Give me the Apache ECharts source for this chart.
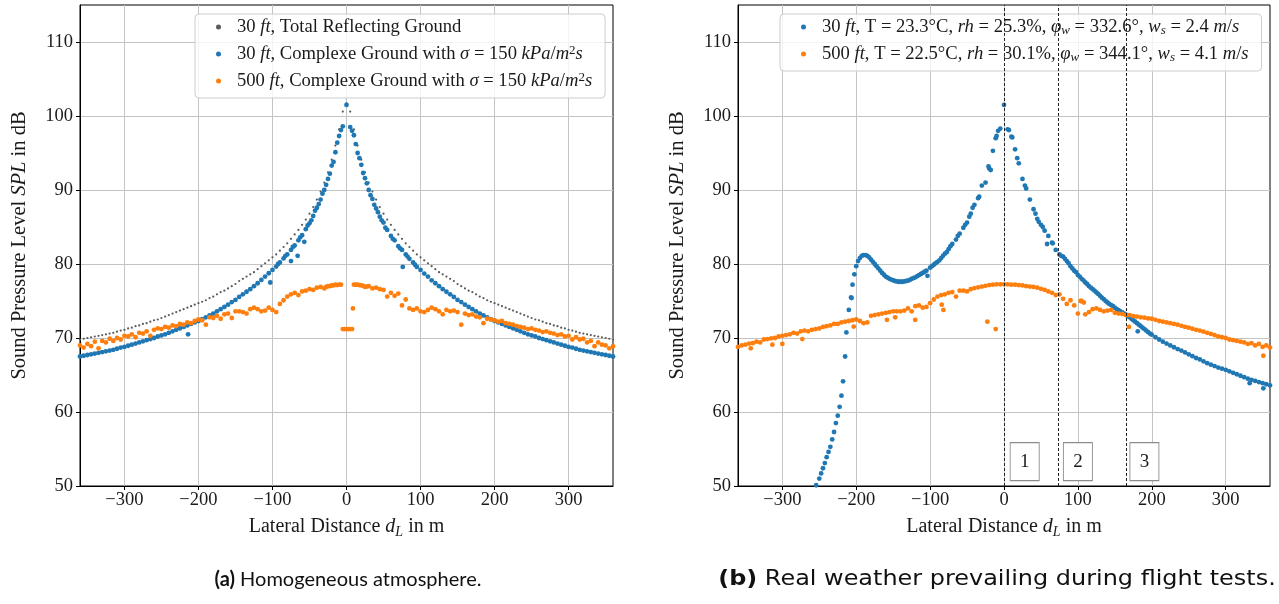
<!DOCTYPE html>
<html>
<head>
<meta charset="utf-8">
<script src="https://cdn.jsdelivr.net/npm/echarts@6/dist/echarts.min.js"></script>
<style>
html, body { margin: 0; padding: 0; background: #fff; }
#chart { width: 1279px; height: 604px; }
</style>
</head>
<body>
<div id="chart"></div>
<script>
// Lateral distance of each sample point (m)
const dist = [
  -360,-355,-350,-345,-340,-335,-330,-325,-320,-315,-310,-305,
  -300,-295,-290,-285,-280,-275,-270,-265,-260,-255,-250,-245,
  -240,-235,-230,-225,-220,-215,-210,-205,-200,-195,-190,-185,
  -180,-175,-170,-165,-160,-155,-150,-145,-140,-135,-130,-125,
  -120,-115,-110,-105,-100,-95,-90,-85,-80,-75,-70,-65,
  -60,-55,-50,-45,-40,-35,-30,-25,-20,-15,-10,-5,
  0,5,10,15,20,25,30,35,40,45,50,55,
  60,65,70,75,80,85,90,95,100,105,110,115,
  120,125,130,135,140,145,150,155,160,165,170,175,
  180,185,190,195,200,205,210,215,220,225,230,235,
  240,245,250,255,260,265,270,275,280,285,290,295,
  300,305,310,315,320,325,330,335,340,345,350,355,
  360
];

// (a) 30 ft, total reflecting ground (dB)
const reflectA = [
  69.8,69.9,70.0,70.1,70.2,70.3,70.4,70.5,70.6,70.7,70.85,71.0,
  71.1,71.3,71.4,71.6,71.7,71.9,72.0,72.2,72.4,72.5,72.7,72.9,
  73.1,73.3,73.5,73.7,73.9,74.1,74.3,74.5,74.7,74.9,75.1,75.4,
  75.6,75.9,76.2,76.4,76.7,77.0,77.3,77.7,78.0,78.3,78.6,78.9,
  79.3,79.7,80.1,80.5,80.9,81.3,81.8,82.3,82.8,83.4,84.0,84.6,
  85.3,86.0,86.8,87.7,88.7,89.8,91.0,92.4,94.1,96.0,98.2,100.6,
  101.7,100.6,98.2,96.0,94.1,92.4,91.0,89.8,88.7,87.7,86.8,86.0,
  85.3,84.6,84.0,83.4,82.8,82.3,81.8,81.3,80.9,80.5,80.1,79.7,
  79.3,78.9,78.6,78.3,78.0,77.7,77.3,77.0,76.7,76.4,76.2,75.9,
  75.6,75.4,75.1,74.9,74.7,74.5,74.3,74.1,73.9,73.7,73.5,73.3,
  73.1,72.9,72.7,72.5,72.4,72.2,72.0,71.9,71.7,71.6,71.4,71.3,
  71.1,71.0,70.85,70.7,70.6,70.5,70.4,70.3,70.2,70.1,70.0,69.9,
  69.8
];

// (a) 30 ft, complex ground (dB)
const lowA = [
  67.5,67.6,67.7,67.8,67.9,68.0,68.1,68.2,68.3,68.4,68.55,68.7,
  68.8,68.95,69.1,69.25,69.4,69.55,69.7,69.85,70.0,70.2,70.35,70.5,
  70.7,70.9,71.1,71.3,71.5,71.7,71.9,72.1,72.3,72.55,72.8,73.05,
  73.3,73.6,73.9,74.2,74.5,74.85,75.15,75.55,75.9,76.25,76.6,77.0,
  77.4,77.85,78.3,78.75,79.2,79.65,80.2,80.75,81.3,81.9,82.5,83.2,
  83.9,84.7,85.5,86.5,87.6,88.7,90.0,91.5,93.3,95.1,97.3,98.6,
  101.5,98.5,97.4,95.0,93.4,91.6,90.0,88.8,87.5,86.4,85.6,84.6,
  83.8,83.2,82.4,81.9,81.3,80.7,80.2,79.6,79.2,78.7,78.3,77.8,
  77.4,77.0,76.6,76.25,75.9,75.55,75.15,74.85,74.5,74.2,73.9,73.6,
  73.3,73.05,72.8,72.55,72.3,72.1,71.9,71.7,71.5,71.3,71.1,70.9,
  70.7,70.5,70.35,70.2,70.0,69.85,69.7,69.55,69.4,69.25,69.1,68.95,
  68.8,68.7,68.55,68.4,68.3,68.2,68.1,68.0,67.9,67.8,67.7,67.6,
  67.5
];
const lowAExtraDist = [-57,-66,-75,76,-103,-214,-7.5,7.5,-12.5,12.5,-17.5,17.5,-22.5,22.5,-27.5,27.5,
  -32.5,32.5,-37.5,37.5,-42.5,42.5,-47.5,47.5,-52.5,52.5,-62.5,62.5,-72.5,72.5,-82.5,82.5,-92.5,92.5];
const lowAExtraSpl = [83.0,81.1,80.4,79.6,77.5,70.5,98.1,98.0,96.4,96.2,93.8,94.3,92.2,92.3,90.7,90.9,
  89.5,89.3,88.1,88.0,87.2,87.0,85.9,85.9,85.2,84.9,83.6,83.4,82.3,82.1,81.1,81.0,80.0,79.9];

// (a) 500 ft, complex ground (dB)
const highA = [
  69.0,68.7,69.2,68.9,69.5,68.6,69.6,69.4,69.9,69.6,70.0,69.8,
  70.3,70.2,70.5,70.1,70.7,70.6,70.9,70.3,71.1,71.3,71.2,71.5,
  71.4,71.7,71.6,71.9,71.8,72.1,72.0,72.3,72.5,72.4,71.8,72.8,
  72.7,73.0,72.6,73.2,73.3,72.7,73.6,73.6,73.5,73.3,73.9,74.1,
  73.9,73.6,73.7,74.1,73.8,73.5,74.6,75.1,75.6,75.9,76.1,75.8,
  76.3,76.4,76.6,76.5,76.8,76.9,76.7,77.0,77.1,77.2,77.2,71.2,
  71.2,71.2,77.2,77.2,77.1,76.9,77.0,76.7,76.8,76.6,76.5,75.6,
  76.1,75.7,76.0,74.4,75.2,74.0,73.8,74.0,73.6,73.5,73.8,74.1,
  73.9,73.6,73.2,73.8,73.6,73.7,73.5,71.8,73.3,73.1,73.2,72.9,
  72.8,72.0,72.6,72.5,72.4,72.2,72.3,72.0,71.9,71.8,71.6,71.5,
  71.4,71.2,71.3,71.1,71.0,70.8,70.9,70.7,70.6,70.4,70.5,70.2,
  70.3,69.8,70.1,69.8,69.9,69.4,69.6,68.9,69.4,69.1,69.0,68.6,
  68.9
];
const highAExtraDist = [-7.5,-2.5,2.5,7.5,8.7,12.5,-12.5,-17.5,17.5,-22.5,22.5,-27.5,27.5];
const highAExtraSpl = [77.2,71.2,71.2,71.2,74.0,77.2,77.15,77.1,77.15,77.0,77.05,76.9,76.95];

// (b) 30 ft, measured weather (dB)
const lowB = [
  null,null,null,null,null,null,null,null,null,null,null,null,
  null,null,null,null,null,null,null,null,null,null,51.0,52.4,
  53.9,55.3,57.3,59.5,62.2,67.5,73.8,77.2,79.7,80.8,81.2,81.1,
  80.6,80.0,79.4,78.8,78.3,78.0,77.8,77.65,77.6,77.65,77.75,78.0,
  78.2,78.5,78.8,79.1,79.5,79.9,80.3,80.8,81.4,82.0,82.7,83.3,
  84.1,84.9,85.6,86.8,88.0,88.9,90.6,91.0,92.9,95.3,97.3,98.3,
  101.5,98.2,97.2,95.5,93.6,91.5,90.2,88.7,87.4,86.1,85.3,84.5,
  83.8,82.9,81.9,81.3,81.0,80.4,79.7,79.1,78.5,78.0,77.5,77.0,
  76.6,76.15,75.7,75.25,74.8,74.45,74.1,73.75,73.45,73.15,72.8,72.4,
  72.0,71.6,71.2,70.8,70.45,70.1,69.8,69.5,69.25,69.0,68.75,68.5,
  68.3,68.05,67.8,67.55,67.3,67.1,66.85,66.6,66.4,66.2,66.0,65.85,
  65.7,65.5,65.3,65.1,64.9,64.7,64.5,64.35,64.2,64.05,63.9,63.75,
  63.6
];
const lowBExtraDist = [-254.2,-247.5,-242.5,-237.5,-232.5,-227.5,-222.5,-217.8,-213.3,-207,-206.3,-202.5,
  -197.5,-192.5,-187.5,-182.5,-177.5,-172.5,-167.5,-162.5,-157.5,-152.5,-147.5,-142.5,-137.5,-132.5,
  -127.5,-122.5,-117.5,-112.5,-107.5,-103.6,-97.5,-92.5,-87.5,-82.5,-77.5,-72.5,-62.5,-52.5,-47,-42.5,
  -33.6,-21,-18,-11.2,-8,6.7,11.2,17.9,28.3,42.6,47,52.5,58.3,65.9,77.5,82.5,87.4,92.5,97.5,102.5,
  107.5,112.5,117.5,122.5,127.5,132.5,137.5,142.5,147.5,152.5,157.5,162.5,167.5,172.5,177.5,181,182.5,
  187.5,192.5,197.5,332.5,351];
const lowBExtraSpl = [50.1,51.7,53.1,54.6,56.3,58.5,60.7,64.15,70.75,75.5,75.4,78.6,
  80.4,81.1,81.2,80.9,80.3,79.7,79.1,78.55,78.15,77.9,77.7,77.6,77.6,77.7,
  77.85,78.1,78.35,78.65,78.95,78.4,79.7,80.1,80.5,81.1,81.6,82.4,83.8,85.3,86.4,87.6,
  89.1,93.2,92.7,97.0,98.0,98.1,97.1,94.3,90.6,86.8,85.7,85.0,82.7,82.8,81.1,80.7,80.1,79.4,78.9,78.3,
  77.8,77.3,76.8,76.4,75.95,75.45,75.0,74.6,74.3,73.9,73.6,73.3,72.95,72.6,72.2,70.9,71.8,
  71.4,71.0,70.6,63.9,63.2];

// (b) 500 ft, measured weather (dB)
const highB = [
  68.8,69.0,69.1,69.25,69.3,69.5,69.4,69.8,69.85,69.95,70.0,70.2,
  70.3,70.4,70.5,70.7,70.6,70.9,71.0,70.9,71.1,71.2,71.3,71.5,
  71.6,71.7,71.9,71.9,72.1,72.2,72.3,72.4,72.5,72.3,72.0,72.1,
  73.0,73.1,73.2,73.3,73.4,73.5,73.6,73.6,73.6,73.7,74.0,73.6,
  74.3,74.4,74.1,74.2,74.7,75.2,75.6,75.8,75.9,76.1,76.2,75.6,
  76.4,76.4,76.3,76.6,76.75,76.85,76.95,77.05,77.15,77.2,77.25,77.25,
  77.25,77.25,77.2,77.2,77.15,77.1,77.0,76.95,76.9,76.8,76.65,76.5,
  76.3,76.1,75.8,75.9,75.3,74.6,75.1,74.4,73.3,75.0,73.2,73.5,
  73.9,74.0,73.8,73.6,73.7,73.8,73.4,73.3,73.25,73.1,73.1,72.95,
  72.9,72.8,72.75,72.65,72.6,72.45,72.3,72.2,72.1,72.0,71.9,71.8,
  71.65,71.5,71.4,71.25,71.1,71.0,70.85,70.7,70.55,70.4,70.2,70.1,
  70.0,69.8,69.7,69.6,69.5,69.4,69.2,69.3,69.0,69.2,68.8,69.0,
  68.7
];
const highBExtraDist = [-342.7,-313.5,-300,-273,-203.4,-158.4,-147.2,-120.2,-84.3,-82,-22.5,-11.2,169,351,103.6,108];
const highBExtraSpl = [68.6,69.1,69.2,69.85,71.55,72.45,72.8,72.45,74.5,73.8,72.2,71.2,71.5,67.6,75.0,74.8];

// Flight-test region boundaries and their numbered tags
const regionEdges = [0, 73, 165];
const regionNames = ['1', '2', '3'];
const regionTagDist = [28, 100, 190];
const regionTagSpl = 53.3;

// Axis ticks
const distTicks = [-300, -200, -100, 0, 100, 200, 300];
const splTicks = [50, 60, 70, 80, 90, 100, 110];

// Series names
const nameA = [
  '30 ft, Total Reflecting Ground',
  '30 ft, Complexe Ground with σ = 150 kPa/m²s',
  '500 ft, Complexe Ground with σ = 150 kPa/m²s'
];
const nameB = [
  '30 ft, T = 23.3°C, rh = 25.3%, φw = 332.6°, ws = 2.4 m/s',
  '500 ft, T = 22.5°C, rh = 30.1%, φw = 344.1°, ws = 4.1 m/s'
];
const richNames = {};
richNames[nameA[0]] = '30 {i|ft}, Total Reflecting Ground';
richNames[nameA[1]] = '30 {i|ft}, Complexe Ground with {i|σ} = 150 {i|kPa}/{i|m}{sup|2}{i|s}';
richNames[nameA[2]] = '500 {i|ft}, Complexe Ground with {i|σ} = 150 {i|kPa}/{i|m}{sup|2}{i|s}';
richNames[nameB[0]] = '30 {i|ft}, T = 23.3°C, {i|rh} = 25.3%, {i|φ}{sub|w} = 332.6°, {i|w}{sub|s} = 2.4 {i|m}/{i|s}';
richNames[nameB[1]] = '500 {i|ft}, T = 22.5°C, {i|rh} = 30.1%, {i|φ}{sub|w} = 344.1°, {i|w}{sub|s} = 4.1 {i|m}/{i|s}';

const SERIF = '"Liberation Serif", "DejaVu Serif", serif';
const SANS = 'Lato, "Open Sans", sans-serif';
const SANS_WIDE = '"DejaVu Sans", "Open Sans", sans-serif';
const BLUE = '#1f77b4';
const ORANGE = '#ff7f0e';
const INK = '#1a1a1a';

const mathRich = (size, lh) => ({
  i: { fontFamily: SERIF, fontStyle: 'italic', fontSize: size, lineHeight: lh, color: INK },
  sub: { fontFamily: SERIF, fontStyle: 'italic', fontSize: Math.round(size * 0.7), lineHeight: Math.round(lh * 0.6), verticalAlign: 'bottom', color: INK },
  sup: { fontFamily: SERIF, fontSize: Math.round(size * 0.7), lineHeight: Math.round(lh * 0.6), verticalAlign: 'top', color: INK }
});

function pairs(xs, ys) {
  const out = [];
  for (let k = 0; k < xs.length; k++) {
    if (ys[k] != null) out.push([xs[k], ys[k]]);
  }
  return out;
}

const minus = (v) => (v < 0 ? '\u2212' + Math.abs(v) : String(v));

function xAxisFor(gridIndex) {
  return {
    type: 'value', gridIndex, min: -360, max: 360,
    name: 'Lateral Distance {i|d}{sub|L} in m',
    nameLocation: 'middle', nameGap: 29,
    nameTextStyle: { fontFamily: SERIF, fontSize: 20, color: INK, lineHeight: 24, rich: mathRich(20, 24) },
    axisLine: { show: true, onZero: false, lineStyle: { color: '#000', width: 1 } },
    axisTick: { show: true, length: 4, customValues: distTicks, lineStyle: { color: '#000' } },
    axisLabel: { customValues: distTicks, margin: 5, fontFamily: SERIF, fontSize: 18.5, color: INK, formatter: minus },
    splitLine: { show: true, lineStyle: { color: '#c4c4c4', width: 1 } }
  };
}
function yAxisFor(gridIndex) {
  return {
    type: 'value', gridIndex, min: 50, max: 115, interval: 10,
    name: 'Sound Pressure Level {i|SPL} in dB',
    nameLocation: 'middle', nameGap: 48, nameRotate: 90,
    nameTextStyle: { fontFamily: SERIF, fontSize: 20.5, color: INK, lineHeight: 24, rich: mathRich(20.5, 24) },
    axisLine: { show: true, onZero: false, lineStyle: { color: '#000', width: 1 } },
    axisTick: { show: true, length: 4, customValues: splTicks, lineStyle: { color: '#000' } },
    axisLabel: { customValues: splTicks, margin: 7, fontFamily: SERIF, fontSize: 18.5, color: INK },
    splitLine: { show: true, lineStyle: { color: '#c4c4c4', width: 1 } }
  };
}

function legendAt(left, names) {
  return {
    data: names, orient: 'vertical', left, top: 14,
    padding: [3, 13, 7, 21], itemGap: 7, itemWidth: 27, itemHeight: 5, icon: 'circle',
    backgroundColor: 'rgba(255,255,255,0.8)', borderColor: '#cccccc', borderWidth: 1, borderRadius: 4,
    selectedMode: false,
    formatter: (n) => richNames[n],
    textStyle: { fontFamily: SERIF, fontSize: 18.6, color: INK, lineHeight: 20, rich: mathRich(18.6, 20) }
  };
}

const dot = (color) => ({ color, opacity: 1 });

const chart = echarts.init(document.getElementById('chart'), null, { renderer: 'canvas' });
chart.setOption({
  animation: false,
  backgroundColor: '#ffffff',
  grid: [
    { left: 80, right: 666, top: 5, bottom: 118, show: true, borderColor: '#000', borderWidth: 1, backgroundColor: '#fff', outerBoundsMode: 'none' },
    { left: 738, right: 9, top: 5, bottom: 118, show: true, borderColor: '#000', borderWidth: 1, backgroundColor: '#fff', outerBoundsMode: 'none' }
  ],
  xAxis: [xAxisFor(0), xAxisFor(1)],
  yAxis: [yAxisFor(0), yAxisFor(1)],
  legend: [legendAt(195, nameA), legendAt(780, nameB)],
  graphic: [
    {
      type: 'text', x: 348, y: 580,
      style: {
        text: '{b|(a)} Homogeneous atmosphere.', align: 'center', verticalAlign: 'middle',
        fontFamily: SANS, fontSize: 20, fill: '#111',
        rich: { b: { fontFamily: SANS, fontSize: 20, fontWeight: 'bold', fill: '#111' } }
      }
    },
    {
      type: 'text', x: 997, y: 580, scaleX: 1.14,
      style: {
        text: '{b|(b)} Real weather prevailing during flight tests.', align: 'center', verticalAlign: 'middle',
        fontFamily: SANS_WIDE, fontSize: 21, fill: '#111',
        rich: { b: { fontFamily: SANS_WIDE, fontSize: 21, fontWeight: 'bold', fill: '#111' } }
      }
    }
  ],
  series: [
    {
      name: nameA[0], type: 'scatter', xAxisIndex: 0, yAxisIndex: 0,
      symbolSize: 2.2, itemStyle: dot('#5a5a5a'),
      data: pairs(dist, reflectA)
    },
    {
      name: nameA[1], type: 'scatter', xAxisIndex: 0, yAxisIndex: 0,
      symbolSize: 4.8, itemStyle: dot(BLUE),
      data: pairs(dist, lowA).concat(pairs(lowAExtraDist, lowAExtraSpl))
    },
    {
      name: nameA[2], type: 'scatter', xAxisIndex: 0, yAxisIndex: 0,
      symbolSize: 4.8, itemStyle: dot(ORANGE),
      data: pairs(dist, highA).concat(pairs(highAExtraDist, highAExtraSpl))
    },
    {
      name: nameB[0], type: 'scatter', xAxisIndex: 1, yAxisIndex: 1,
      symbolSize: 4.8, itemStyle: dot(BLUE),
      data: pairs(dist, lowB).concat(pairs(lowBExtraDist, lowBExtraSpl))
    },
    {
      name: nameB[1], type: 'scatter', xAxisIndex: 1, yAxisIndex: 1,
      symbolSize: 4.8, itemStyle: dot(ORANGE),
      data: pairs(dist, highB).concat(pairs(highBExtraDist, highBExtraSpl)),
      markLine: {
        silent: true, symbol: 'none', label: { show: false }, z: 4,
        lineStyle: { type: [3, 2], color: '#222', width: 1 },
        emphasis: { disabled: true },
        data: regionEdges.map((v) => ({ xAxis: v }))
      }
    },
    {
      name: 'regions', type: 'scatter', xAxisIndex: 1, yAxisIndex: 1, z: 6, silent: true,
      symbol: 'rect', symbolSize: [29, 38],
      itemStyle: { color: '#ffffff', borderColor: '#8c8c8c', borderWidth: 1, opacity: 1 },
      label: {
        show: true, position: 'inside', formatter: (p) => p.value[2],
        fontFamily: SERIF, fontSize: 19, color: INK
      },
      data: regionTagDist.map((d, k) => [d, regionTagSpl, regionNames[k]])
    }
  ]
});
</script>
</body>
</html>
